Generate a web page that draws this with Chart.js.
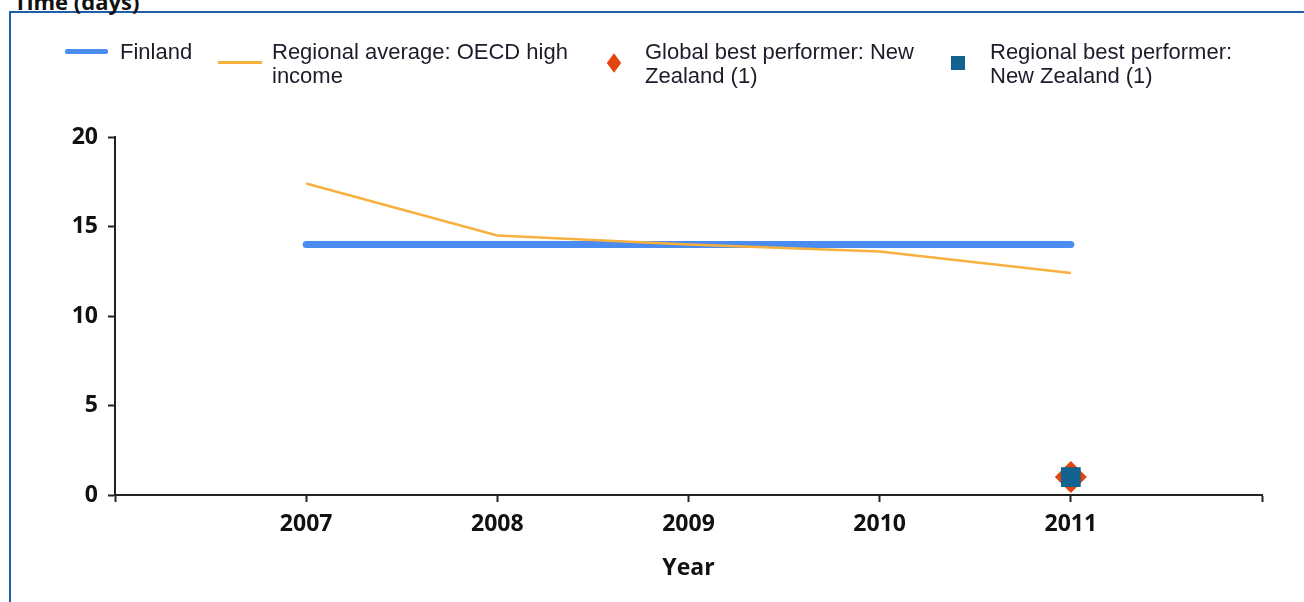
<!DOCTYPE html>
<html>
<head>
<meta charset="utf-8">
<script src="https://cdn.jsdelivr.net/npm/chart.js@4.4.0/dist/chart.umd.min.js"></script>
<style>
  html, body { margin: 0; padding: 0; background: #fff; overflow: hidden; }
  body { width: 1304px; height: 602px; position: relative; }
  #frame { position: absolute; left: 9px; top: 11px; width: 1400px; height: 700px; border: 2px solid #1f5ea8; box-sizing: border-box; }
  #title { position: absolute; left: 14px; top: -14px; font: bold 22px "Open Sans"; color: #111; white-space: nowrap; }
  #chartWrap { position: absolute; left: 0; top: 0; width: 1304px; height: 602px; }
  #legend { position: absolute; left: 0; top: 0; z-index: 2; }
  .legText { position: absolute; top: 40px; font: 22px "Liberation Sans"; line-height: 24px; color: #1c1c2a; }
  .sym { position: absolute; }
</style>
</head>
<body>
<div id="frame"></div>
<div id="title">Time (days)</div>
<div id="chartWrap"><canvas id="chart"></canvas></div>
<div id="legend"></div>
<script>
// Datos del gráfico
const years = [2007, 2008, 2009, 2010, 2011];
const finlandValues = [14, 14, 14, 14, 14];
const oecdAverage = [17.4, 14.5, 14.0, 13.6, 12.4];
const bestYear = [2011];
const globalBest = [1];
const regionalBest = [1];
const yTicks = [0, 5, 10, 15, 20];

const labels = [
    'Finland',
    'Regional average: OECD high income',
    'Global best performer: New Zealand (1)',
    'Regional best performer: New Zealand (1)'
];
const colors = ['#4a8cf0', '#f8b03f', '#e2460f', '#12638f'];

const axisFont = { family: 'Open Sans', weight: 'bold', size: 23 };
const axisColor = '#222';

function toPoints(xs, ys) {
    return xs.map((x, i) => ({ x: x, y: ys[i] }));
}

// Leyenda en HTML
function buildLegend() {
    const legend = document.getElementById('legend');
    const items = [
        { sym: { left: 65, top: 49, width: 43, height: 5, background: colors[0], borderRadius: '2px' }, text: 120, width: 200 },
        { sym: { left: 218, top: 61, width: 44, height: 3, background: colors[1] }, text: 272, width: 320 },
        { sym: { left: 608, top: 57, width: 12, height: 12, background: colors[2], transform: 'scale(0.85,1.15) rotate(45deg)' }, text: 645, width: 290 },
        { sym: { left: 951, top: 56, width: 14, height: 14, background: colors[3] }, text: 990, width: 260 }
    ];
    items.forEach((it, i) => {
        const s = document.createElement('div');
        s.className = 'sym';
        Object.entries(it.sym).forEach(([k, v]) => {
            s.style[k] = typeof v === 'number' ? v + 'px' : v;
        });
        legend.appendChild(s);
        const t = document.createElement('div');
        t.className = 'legText';
        t.style.left = it.text + 'px';
        t.style.width = it.width + 'px';
        t.textContent = labels[i];
        legend.appendChild(t);
    });
}

function createChart() {
    const ctx = document.getElementById('chart');
    new Chart(ctx, {
        type: 'line',
        data: {
            datasets: [
                {
                    label: labels[3],
                    data: toPoints(bestYear, regionalBest),
                    showLine: false,
                    pointStyle: 'rect',
                    pointRadius: 14,
                    pointBackgroundColor: colors[3],
                    pointBorderWidth: 0,
                    order: 0
                },
                {
                    label: labels[2],
                    data: toPoints(bestYear, globalBest),
                    showLine: false,
                    pointStyle: 'rectRot',
                    pointRadius: 16,
                    pointBackgroundColor: colors[2],
                    pointBorderWidth: 0,
                    order: 1
                },
                {
                    label: labels[1],
                    data: toPoints(years, oecdAverage),
                    borderColor: colors[1],
                    borderWidth: 2.5,
                    pointRadius: 0,
                    tension: 0,
                    order: 2
                },
                {
                    label: labels[0],
                    data: toPoints(years, finlandValues),
                    borderColor: colors[0],
                    borderWidth: 7,
                    borderCapStyle: 'round',
                    pointRadius: 0,
                    tension: 0,
                    order: 3
                }
            ]
        },
        options: {
            responsive: true,
            maintainAspectRatio: false,
            animation: false,
            layout: { padding: { top: 137, right: 42, bottom: 0, left: 0 } },
            plugins: {
                legend: { display: false },
                tooltip: { enabled: false }
            },
            scales: {
                x: {
                    type: 'linear',
                    min: years[0] - 1,
                    max: years[years.length - 1] + 1,
                    ticks: {
                        stepSize: 1,
                        autoSkip: false,
                        maxRotation: 0,
                        padding: 9,
                        color: '#111',
                        font: axisFont,
                        callback: (value) => years.includes(value) ? String(value) : ''
                    },
                    grid: { drawOnChartArea: false, tickLength: 7, tickColor: axisColor, tickWidth: 2 },
                    border: { color: axisColor, width: 2 },
                    title: {
                        display: true,
                        text: 'Year',
                        color: '#111',
                        font: axisFont,
                        padding: { top: 20, bottom: 20 }
                    },
                    afterFit: (scale) => { scale.height = 107; }
                },
                y: {
                    min: yTicks[0],
                    max: yTicks[yTicks.length - 1],
                    afterBuildTicks: (scale) => { scale.ticks = yTicks.map(v => ({ value: v })); },
                    ticks: { padding: 10, color: '#111', font: axisFont },
                    grid: { drawOnChartArea: false, tickLength: 7, tickColor: axisColor, tickWidth: 2 },
                    border: { color: axisColor, width: 2 },
                    afterFit: (scale) => { scale.width = 115; }
                }
            }
        }
    });
}

buildLegend();
createChart();
</script>
</body>
</html>
